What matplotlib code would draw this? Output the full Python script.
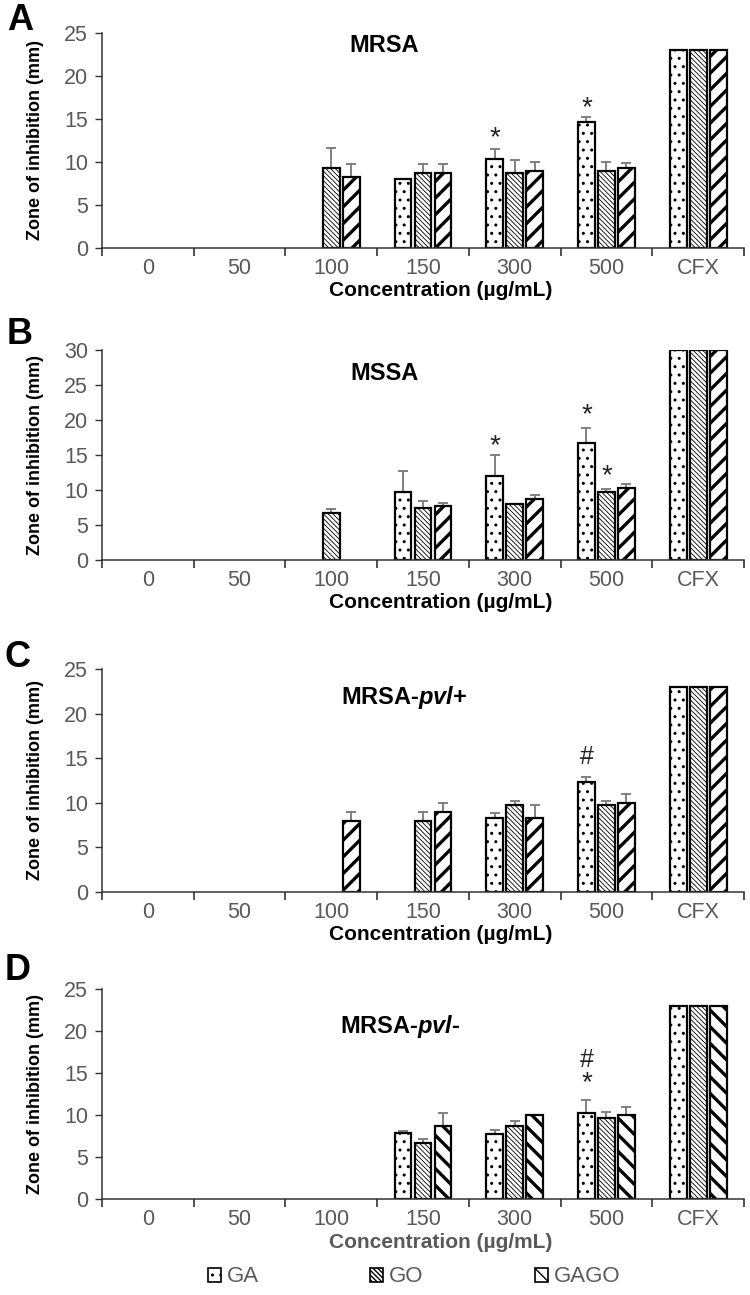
import numpy as np
import matplotlib
matplotlib.use("Agg")
import matplotlib.pyplot as plt
from matplotlib.patches import Patch

plt.rcParams['font.family'] = ['Liberation Sans', 'DejaVu Sans']
plt.rcParams['mathtext.fontset'] = 'custom'
plt.rcParams['mathtext.bfit'] = 'Liberation Sans:italic:bold'
plt.rcParams['mathtext.it'] = 'Liberation Sans:italic'
plt.rcParams['mathtext.bf'] = 'Liberation Sans:bold'
plt.rcParams['mathtext.rm'] = 'Liberation Sans'

nan = np.nan
categories = ['0', '50', '100', '150', '300', '500', 'CFX']
series_names = ['GA', 'GO', 'GAGO']

# Panel A: MRSA
mrsa_ga = [nan, nan, nan, 8.0, 10.3, 14.7, 23]
mrsa_ga_err = [0, 0, 0, 0, 1.2, 0.5, 0]
mrsa_go = [nan, nan, 9.3, 8.7, 8.7, 9.0, 23]
mrsa_go_err = [0, 0, 2.3, 1.1, 1.5, 1.0, 0]
mrsa_gago = [nan, nan, 8.3, 8.7, 9.0, 9.3, 23]
mrsa_gago_err = [0, 0, 1.5, 1.1, 1.0, 0.6, 0]

# Panel B: MSSA
mssa_ga = [nan, nan, nan, 9.7, 12.0, 16.7, 30]
mssa_ga_err = [0, 0, 0, 3.0, 3.0, 2.1, 0]
mssa_go = [nan, nan, 6.7, 7.4, 8.0, 9.7, 30]
mssa_go_err = [0, 0, 0.6, 1.1, 0, 0.5, 0]
mssa_gago = [nan, nan, nan, 7.7, 8.7, 10.3, 30]
mssa_gago_err = [0, 0, 0, 0.5, 0.6, 0.5, 0]

# Panel C: MRSA-pvl+
pvlp_ga = [nan, nan, nan, nan, 8.3, 12.3, 23]
pvlp_ga_err = [0, 0, 0, 0, 0.6, 0.6, 0]
pvlp_go = [nan, nan, nan, 8.0, 9.7, 9.7, 23]
pvlp_go_err = [0, 0, 0, 1.0, 0.5, 0.5, 0]
pvlp_gago = [nan, nan, 8.0, 9.0, 8.3, 10.0, 23]
pvlp_gago_err = [0, 0, 1.0, 1.0, 1.5, 1.0, 0]

# Panel D: MRSA-pvl-
pvlm_ga = [nan, nan, nan, 7.8, 7.7, 10.2, 23]
pvlm_ga_err = [0, 0, 0, 0.3, 0.5, 1.6, 0]
pvlm_go = [nan, nan, nan, 6.7, 8.7, 9.7, 23]
pvlm_go_err = [0, 0, 0, 0.5, 0.6, 0.6, 0]
pvlm_gago = [nan, nan, nan, 8.7, 10.0, 10.0, 23]
pvlm_gago_err = [0, 0, 0, 1.5, 0, 1.0, 0]

panel_letters = ['A', 'B', 'C', 'D']
panel_titles = ['MRSA', 'MSSA', r'MRSA-$\mathbfit{pvl}$+', r'MRSA-$\mathbfit{pvl}$-']
panel_ymax = [25, 30, 25, 25]

# significance marks: (category index, series index, symbol, y)
marks_a = [(4, 0, '*', 13.7), (5, 0, '*', 17.2)]
marks_b = [(4, 0, '*', 17.4), (5, 0, '*', 21.9), (5, 1, '*', 13.1)]
marks_c = [(5, 0, '#', 15.1)]
marks_d = [(5, 0, '#', 16.5), (5, 0, '*', 14.8)]

panels = [
    ([mrsa_ga, mrsa_go, mrsa_gago], [mrsa_ga_err, mrsa_go_err, mrsa_gago_err], marks_a),
    ([mssa_ga, mssa_go, mssa_gago], [mssa_ga_err, mssa_go_err, mssa_gago_err], marks_b),
    ([pvlp_ga, pvlp_go, pvlp_gago], [pvlp_ga_err, pvlp_go_err, pvlp_gago_err], marks_c),
    ([pvlm_ga, pvlm_go, pvlm_gago], [pvlm_ga_err, pvlm_go_err, pvlm_gago_err], marks_d),
]

W, H = 750, 1295
fig = plt.figure(figsize=(W / 100, H / 100), dpi=100)

# axes pixel boxes: (top, bottom)
boxes = [(33, 248), (350, 560), (669, 892), (989, 1199)]
left_px, right_px = 102, 744
letter_pos = [(20, 20), (20, 335), (18, 657), (18, 971)]
title_pos = [(0.44, 0.944), (0.44, 0.886), (0.47, 0.874), (0.465, 0.82)]

gray = '#595959'
bar_w = 0.185
offs = [-0.218, 0.0, 0.218]

def hatch_for(si, panel):
    if si == 0:
        return '..', 1.0
    if si == 1:
        return '\\' * 7, 0.6
    return ('\\\\' if panel == 3 else '//'), 2.4

def hatch_color(si):
    return '#a5a5a5' if si == 0 else ('#333333' if si == 1 else 'black')

for p, (vals, errs, marks) in enumerate(panels):
    top, bot = boxes[p]
    ax = fig.add_axes([left_px / W, 1 - bot / H, (right_px - left_px) / W, (bot - top) / H])
    x = np.arange(len(categories))
    for si in range(3):
        h, lw = hatch_for(si, p)
        v = np.array(vals[si], dtype=float)
        e = np.array(errs[si], dtype=float)
        with plt.rc_context({'hatch.linewidth': lw, 'hatch.color': hatch_color(si)}):
            bars = ax.bar(x + offs[si], v, width=bar_w, color='white',
                          edgecolor='black', linewidth=1.6, hatch=h, zorder=2)
            for b in bars:
                if hasattr(b, 'set_hatch_linewidth'):
                    b.set_hatch_linewidth(lw)
        mask = ~np.isnan(v) & (e > 0)
        if mask.any():
            ax.errorbar((x + offs[si])[mask], v[mask],
                        yerr=[np.zeros(mask.sum()), e[mask]],
                        fmt='none', ecolor='#808080', elinewidth=1.4,
                        capsize=3.5, capthick=1.4, zorder=1)
    for ci, si, sym, yv in marks:
        dy = -6 if sym == '*' else 0
        ax.annotate(sym, (ci + offs[si], yv), xytext=(0, dy),
                    textcoords='offset points', ha='center', va='center',
                    fontsize=20 if sym == '*' else 18, color='#222222', zorder=3)

    ax.set_xlim(-0.5, len(categories) - 0.5)
    ax.set_ylim(0, panel_ymax[p])
    ax.set_yticks(np.arange(0, panel_ymax[p] + 1, 5))
    ax.tick_params(axis='y', labelsize=15.5, labelcolor=gray, length=5,
                   width=1, color='#333333', pad=5)
    ax.set_xticks(x)
    ax.set_xticklabels(categories)
    ax.tick_params(axis='x', which='major', length=0, labelsize=15.5,
                   labelcolor=gray, pad=7)
    ax.set_xticks(np.arange(-0.5, len(categories), 1.0), minor=True)
    ax.tick_params(axis='x', which='minor', length=6, width=1.2,
                   color='#333333', direction='out')
    for s in ['top', 'right']:
        ax.spines[s].set_visible(False)
    for s in ['left', 'bottom']:
        ax.spines[s].set_color('#333333')
        ax.spines[s].set_linewidth(1.1)

    ax.set_ylabel('Zone of inhibition (mm)', fontsize=13, fontweight='bold',
                  color='black')
    ax.yaxis.set_label_coords(-0.09, 0.5)
    ax.text(0.527, -43 / (bot - top), 'Concentration (µg/mL)',
            transform=ax.transAxes, ha='center', va='center',
            fontsize=15, fontweight='bold',
            color=gray if p == 3 else 'black')
    ax.text(title_pos[p][0], title_pos[p][1], panel_titles[p],
            transform=ax.transAxes, ha='center', va='center',
            fontsize=17, fontweight='bold', color='black')
    lx, ly = letter_pos[p]
    fig.text(lx / W, 1 - ly / H, panel_letters[p], ha='center', va='center',
             fontsize=26, fontweight='bold',
             family=['Liberation Sans Narrow', 'Liberation Sans'])

handles = []
for si in range(3):
    h, lw = hatch_for(si, 3)
    with plt.rc_context({'hatch.linewidth': lw, 'hatch.color': hatch_color(si)}):
        ph = Patch(facecolor='white', edgecolor='black', linewidth=1.2, hatch=h)
        if hasattr(ph, 'set_hatch_linewidth'):
            ph.set_hatch_linewidth(lw)
    handles.append(ph)

leg = fig.legend(handles, series_names, loc='center', ncol=3,
                 bbox_to_anchor=(414 / W, 1 - 1277 / H), frameon=False,
                 fontsize=16, handlelength=0.6, handleheight=0.6,
                 handletextpad=0.25, columnspacing=5.0)
for t in leg.get_texts():
    t.set_color(gray)

fig.savefig('out.png', dpi=100)
